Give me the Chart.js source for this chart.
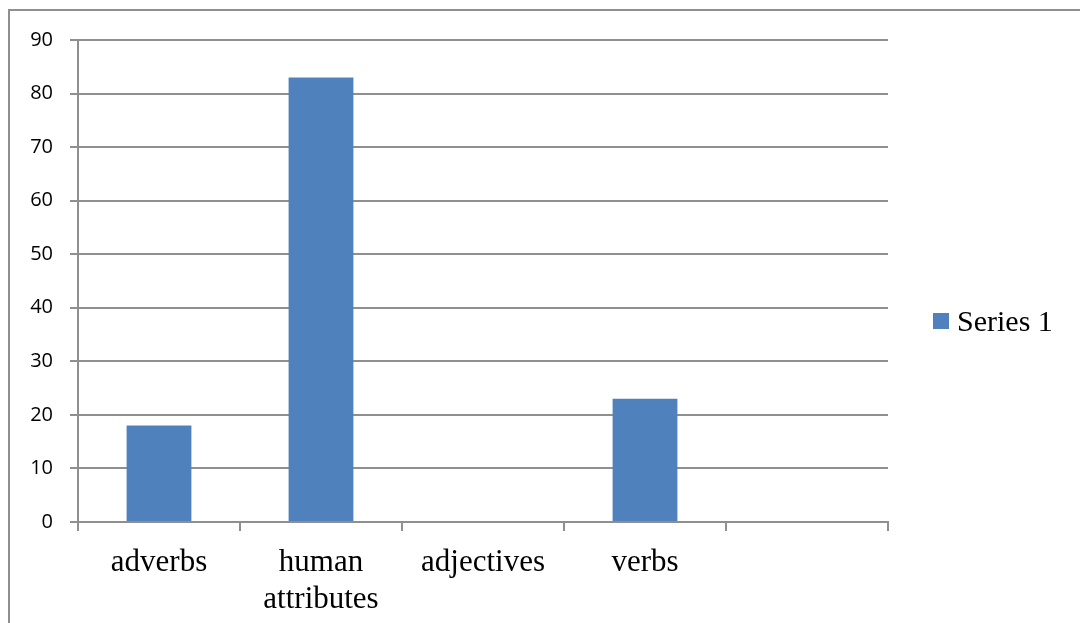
<!DOCTYPE html>
<html>
<head>
<meta charset="utf-8">
<script src="https://cdn.jsdelivr.net/npm/chart.js@4/dist/chart.umd.min.js"></script>
<style>
  html, body { margin: 0; padding: 0; background: #ffffff; }
  #wrap { position: relative; width: 1080px; height: 623px; overflow: hidden; }
  #frame {
    position: absolute; left: 8px; top: 9px; width: 1200px; height: 800px;
    border-top: 2px solid #8f8f8f; border-left: 2px solid #8f8f8f;
    box-sizing: border-box;
  }
  canvas { position: absolute; left: 0; top: 0; }
</style>
</head>
<body>
<div id="wrap">
  <div id="frame"></div>
  <canvas id="chart" width="1080" height="623"></canvas>
</div>
<script>
// Word-class counts
const categories = ['adverbs', ['human', 'attributes'], 'adjectives', 'verbs', ''];
const seriesName = 'Series 1';
const seriesValues = [18, 83, 0, 23, null];
const yTicks = [0, 10, 20, 30, 40, 50, 60, 70, 80, 90];

const gridColor = '#8f8f8f';
const barColor = '#4f81bd';

// Legend drawn to the right of the plot, one entry per dataset
const sideLegend = {
  id: 'sideLegend',
  afterDraw(chart) {
    const ctx = chart.ctx;
    const area = chart.chartArea;
    ctx.save();
    chart.data.datasets.forEach((ds, i) => {
      const x = area.right + 45;
      const y = 313 + i * 40;
      ctx.fillStyle = ds.backgroundColor;
      ctx.fillRect(x, y, 16, 16);
      ctx.fillStyle = '#000000';
      ctx.font = '30px "Liberation Serif", "Times New Roman", serif';
      ctx.textAlign = 'left';
      ctx.textBaseline = 'alphabetic';
      ctx.fillText(ds.label, x + 24, y + 18);
    });
    ctx.restore();
  }
};

new Chart(document.getElementById('chart'), {
  type: 'bar',
  data: {
    labels: categories,
    datasets: [{
      label: seriesName,
      data: seriesValues,
      backgroundColor: barColor,
      borderWidth: 0,
      barPercentage: 0.4,
      categoryPercentage: 1.0
    }]
  },
  options: {
    responsive: false,
    animation: false,
    layout: { padding: { left: 0, top: 40, right: 192, bottom: 0 } },
    plugins: {
      legend: { display: false },
      tooltip: { enabled: false }
    },
    scales: {
      x: {
        offset: true,
        afterFit(scale) { scale.height = 101; },
        grid: {
          offset: true,
          drawOnChartArea: false,
          drawTicks: true,
          tickLength: 9,
          color: gridColor,
          lineWidth: 2
        },
        border: { display: true, color: gridColor, width: 2 },
        ticks: {
          color: '#000000',
          padding: 13,
          maxRotation: 0,
          autoSkip: false,
          font: { family: '"Liberation Serif", "Times New Roman", serif', size: 31, lineHeight: 1.2 }
        }
      },
      y: {
        min: 0,
        max: 90,
        afterFit(scale) { scale.width = 78; },
        afterBuildTicks(scale) { scale.ticks = yTicks.map(v => ({ value: v })); },
        grid: {
          drawTicks: true,
          tickLength: 8,
          color: gridColor,
          lineWidth: 2
        },
        border: { display: true, color: gridColor, width: 2 },
        ticks: {
          color: '#000000',
          padding: 17,
          font: { family: '"Open Sans", "Liberation Sans", sans-serif', size: 20 }
        }
      }
    }
  },
  plugins: [sideLegend]
});
</script>
</body>
</html>
